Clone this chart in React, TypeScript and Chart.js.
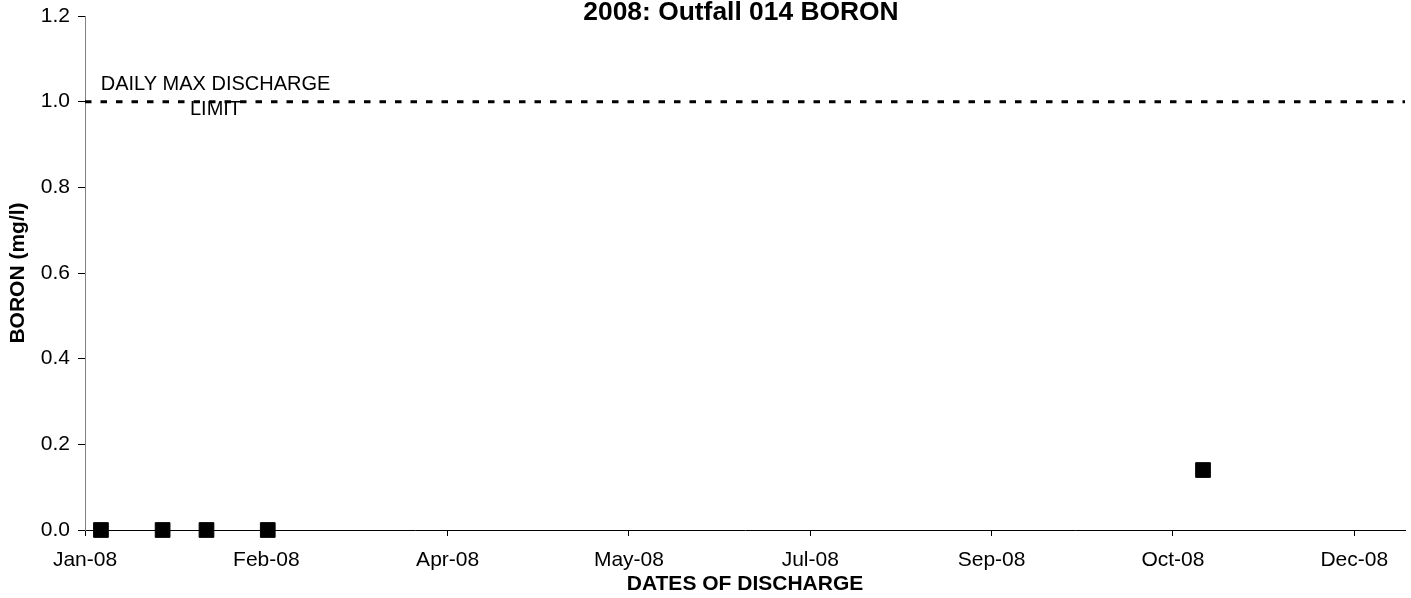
import React, { useEffect, useRef } from "react";
import { Chart, registerables } from "chart.js";

Chart.register(...registerables);

const TITLE = "2008: Outfall 014 BORON";
const X_TITLE = "DATES OF DISCHARGE";
const Y_TITLE = "BORON (mg/l)";
const LIMIT_LABEL = ["DAILY MAX DISCHARGE", "LIMIT"];

// Days since 1 Jan 2008
const sampleDays = [4.4, 21.4, 33.5, 50.4, 308.3];
const boronValues = [0, 0, 0, 0, 0.14];
const limitValue = 1.0;
const limitLabelDay = 36;

const xTickDays = [0, 50, 100, 150, 200, 250, 300, 350];
const xTickLabels = ["Jan-08", "Feb-08", "Apr-08", "May-08", "Jul-08", "Sep-08", "Oct-08", "Dec-08"];
const X_MIN = 0;
const X_MAX = 364;
const Y_MIN = 0;
const Y_MAX = 1.2;
const Y_STEP = 0.2;

const FAMILY = '"Liberation Sans", Arial, Helvetica, sans-serif';

const overlayPlugin = {
  id: "overlayText",
  afterDraw(chart: any) {
    const { ctx, chartArea, scales } = chart;
    ctx.save();
    ctx.fillStyle = "#000";
    ctx.textAlign = "center";
    ctx.textBaseline = "alphabetic";
    ctx.font = `bold 26.4px ${FAMILY}`;
    ctx.fillText(TITLE, (chartArea.left + chartArea.right) / 2 - 4, 19.5);
    ctx.font = `20px ${FAMILY}`;
    const x = scales.x.getPixelForValue(limitLabelDay);
    const y = scales.y.getPixelForValue(limitValue);
    ctx.fillText(LIMIT_LABEL[0], x, y - 12);
    ctx.fillText(LIMIT_LABEL[1], x, y + 13);
    ctx.restore();
  },
};

export default function App() {
  const canvasRef = useRef<HTMLCanvasElement | null>(null);

  useEffect(() => {
    if (!canvasRef.current) return;
    const points = sampleDays.map((d, i) => ({ x: d, y: boronValues[i] }));
    const limitLine = [
      { x: X_MIN, y: limitValue },
      { x: X_MAX, y: limitValue },
    ];
    const chart = new Chart(canvasRef.current, {
      type: "scatter",
      data: {
        datasets: [
          {
            label: "Limit",
            data: limitLine,
            showLine: true,
            borderColor: "#000",
            borderWidth: 3,
            borderDash: [6.5, 9],
            pointRadius: 0,
            clip: false,
          } as any,
          {
            label: "Boron",
            data: points,
            pointStyle: "rect",
            pointRadius: 10.4,
            pointHoverRadius: 10.4,
            backgroundColor: "#000",
            borderColor: "#000",
            borderWidth: 1,
            clip: false,
          } as any,
        ],
      },
      options: {
        animation: false,
        responsive: false,
        maintainAspectRatio: false,
        events: [],
        layout: { autoPadding: false, padding: { top: 16, right: 6, left: 0, bottom: 0 } },
        plugins: {
          legend: { display: false },
          tooltip: { enabled: false },
          title: { display: false },
        },
        scales: {
          x: {
            type: "linear",
            min: X_MIN,
            max: X_MAX,
            afterBuildTicks: (s: any) => {
              s.ticks = xTickDays.map((v) => ({ value: v }));
            },
            afterFit: (s: any) => {
              s.height = 68;
              s.paddingLeft = 0;
              s.paddingRight = 0;
            },
            ticks: {
              autoSkip: false,
              maxRotation: 0,
              padding: 12,
              color: "#000",
              font: { size: 21, family: FAMILY },
              callback: (_v: any, i: number) => xTickLabels[i],
            },
            grid: { display: true, drawOnChartArea: false, drawTicks: true, tickLength: 6, color: "#000" },
            border: { display: true, color: "#000", width: 1 },
            title: {
              display: true,
              text: X_TITLE,
              color: "#000",
              font: { size: 21, weight: "bold", family: FAMILY },
              padding: { top: 0, bottom: 1 },
            },
          },
          y: {
            type: "linear",
            min: Y_MIN,
            max: Y_MAX,
            afterFit: (s: any) => {
              s.width = 85;
              s.paddingTop = 0;
              s.paddingBottom = 0;
            },
            ticks: {
              stepSize: Y_STEP,
              padding: 8,
              color: "#000",
              font: { size: 21, family: FAMILY },
              callback: (v: any) => Number(v).toFixed(1),
            },
            grid: { display: true, drawOnChartArea: false, drawTicks: true, tickLength: 7, color: "#000" },
            border: { display: true, color: "#808080", width: 1 },
            title: {
              display: true,
              text: Y_TITLE,
              color: "#000",
              font: { size: 21, weight: "bold", family: FAMILY },
              padding: { top: 6, bottom: 0 },
            },
          },
        },
      } as any,
      plugins: [overlayPlugin],
    });
    return () => chart.destroy();
  }, []);

  return (
    <div style={{ position: "absolute", left: 0, top: 0, width: 1411, height: 598, background: "#fff" }}>
      <canvas ref={canvasRef} width={1411} height={598} style={{ display: "block" }} />
    </div>
  );
}
